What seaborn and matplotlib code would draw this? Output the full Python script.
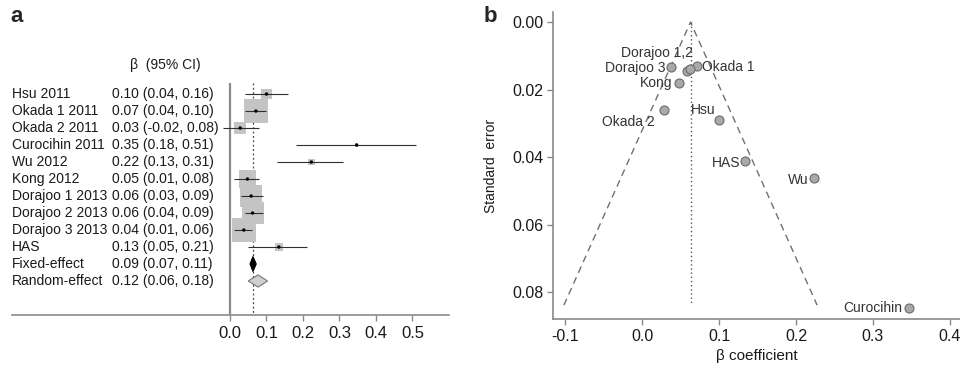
import numpy as np
import matplotlib
matplotlib.use("Agg")
import matplotlib.pyplot as plt
import matplotlib.transforms as mtransforms
import seaborn as sns

# ---- Data ----
studies = ["Hsu 2011", "Okada 1 2011", "Okada 2 2011", "Curocihin 2011", "Wu 2012",
           "Kong 2012", "Dorajoo 1 2013", "Dorajoo 2 2013", "Dorajoo 3 2013", "HAS"]
beta = [0.100, 0.071, 0.028, 0.347, 0.223, 0.048, 0.058, 0.062, 0.038, 0.134]
ci_lo = [0.04, 0.04, -0.02, 0.18, 0.13, 0.01, 0.03, 0.04, 0.01, 0.05]
ci_hi = [0.16, 0.10, 0.08, 0.51, 0.31, 0.08, 0.09, 0.09, 0.06, 0.21]
se = [0.0290, 0.0131, 0.0260, 0.0847, 0.0463, 0.0179, 0.0145, 0.0140, 0.0132, 0.0411]

pooled_names = ["Fixed-effect", "Random-effect"]
pooled_text = ["0.09 (0.07, 0.11)", "0.12 (0.06, 0.18)"]
pooled_est = [0.063, 0.077]
pooled_lo = [0.055, 0.050]
pooled_hi = [0.072, 0.103]

funnel_center = 0.063
funnel_se_max = 0.0839

forest_ticks = [0.0, 0.1, 0.2, 0.3, 0.4, 0.5]
funnel_xticks = [-0.1, 0.0, 0.1, 0.2, 0.3, 0.4]
funnel_yticks = [0.00, 0.02, 0.04, 0.06, 0.08]

# ---- Style ----
sns.set_theme(style="white")
plt.rcParams["font.family"] = ["Liberation Sans", "DejaVu Sans"]
AXIS_GRAY = "#8a8a8a"
TEXT = "#1a1a1a"
TICK_SIZE = 11.5

fig = plt.figure(figsize=(9.6, 3.7), dpi=100)

# ================= Panel a: forest plot =================
ax = fig.add_axes([12 / 960, 1 - 315 / 370, 437 / 960, 232 / 370])
rows = np.arange(len(studies))
pooled_rows = np.arange(len(studies), len(studies) + len(pooled_names))

ax.set_xlim(-0.597, 0.6)
ax.set_ylim(13.0, -0.65)

# study weight squares (side ~ 1/SE)
sizes = [(0.72 * 0.31 / s) ** 2 for s in se]
ax.vlines(0, -0.65, 13.0, color=AXIS_GRAY, lw=1.6, zorder=1)
ax.vlines(funnel_center, -0.65, 13.0, color="#444444", lw=0.9, linestyles=(0, (1.5, 2)), zorder=1)
sns.scatterplot(x=beta, y=rows, s=sizes, marker="s", color="#c4c4c4", edgecolor="none",
                linewidth=0, ax=ax, zorder=2, legend=False)
ax.hlines(rows, ci_lo, ci_hi, color="#303030", lw=0.8, zorder=3)
sns.scatterplot(x=beta, y=rows, s=6, marker="o", color="black", edgecolor="none",
                ax=ax, zorder=4, legend=False)

# pooled diamonds
heights = [0.44, 0.36]
fills = ["black", "#cfcfcf"]
edges = ["black", "#777777"]
for r, est, lo, hi, h, fc, ec in zip(pooled_rows, pooled_est, pooled_lo, pooled_hi, heights, fills, edges):
    ax.fill([lo, est, hi, est], [r, r - h, r, r + h], facecolor=fc, edgecolor=ec, lw=0.8, zorder=4)

# text columns
trans = mtransforms.blended_transform_factory(ax.transAxes, ax.transData)
ci_text = [f"{b:.2f} ({l:.2f}, {u:.2f})" for b, l, u in zip(beta, ci_lo, ci_hi)]
for r, name, txt in zip(list(rows) + list(pooled_rows), studies + pooled_names, ci_text + pooled_text):
    ax.text(0.0, r, name, transform=trans, ha="left", va="center", fontsize=10, color=TEXT)
    ax.text(0.229, r, txt, transform=trans, ha="left", va="center", fontsize=10, color=TEXT)
ax.text(0.35, -1.7, "β  (95% CI)", transform=trans, ha="center", va="center",
        fontsize=10, color=TEXT, clip_on=False)

for side in ["left", "right", "top"]:
    ax.spines[side].set_visible(False)
ax.spines["bottom"].set_color(AXIS_GRAY)
ax.spines["bottom"].set_linewidth(1.2)
ax.set_yticks([])
ax.set_xticks(forest_ticks)
ax.set_xticklabels([f"{t:.1f}" for t in forest_ticks])
ax.tick_params(axis="x", direction="out", length=4, width=1, color=AXIS_GRAY,
               labelsize=12, labelcolor=TEXT, pad=4, bottom=True)

fig.text(10 / 960, 1 - 17 / 370, "a", fontsize=16, fontweight="bold", va="center", ha="left")

# ================= Panel b: funnel plot =================
bx = fig.add_axes([553 / 960, 1 - 319 / 370, 407 / 960, 307 / 370])
bx.set_xlim(-0.1156, 0.413)
bx.set_ylim(0.088, -0.003)

half = 1.96 * funnel_se_max
bx.plot([funnel_center - half, funnel_center, funnel_center + half],
        [funnel_se_max, 0, funnel_se_max], color="#707070", lw=1, ls=(0, (5, 3.5)), zorder=1)
bx.plot([funnel_center, funnel_center], [0, funnel_se_max], color="#555555", lw=1,
        ls=(0, (1, 2)), zorder=1)

sns.scatterplot(x=beta, y=se, s=42, color="#a9a9a9", edgecolor="#6a6a6a", linewidth=0.8,
                ax=bx, zorder=3, legend=False, clip_on=False)

# point labels: (text, index of anchor point, offset px, ha)
labels = [
    ("Dorajoo 1,2", 6, (-30, 18), "center"),
    ("Dorajoo 3", 8, (-6, -1), "right"),
    ("Okada 1", 1, (5, -1), "left"),
    ("Kong", 5, (-7, 0), "right"),
    ("Okada 2", 2, (-9, -12), "right"),
    ("Hsu", 0, (-16, 10), "center"),
    ("HAS", 9, (-5, -2), "right"),
    ("Wu", 4, (-5, -2), "right"),
    ("Curocihin", 3, (-7, 0), "right"),
]
for txt, i, (dx, dy), ha in labels:
    bx.annotate(txt, (beta[i], se[i]), xytext=(dx * 0.72, dy * 0.72), textcoords="offset points",
                ha=ha, va="center", fontsize=10, color="#333333", zorder=2)

for side in ["right", "top"]:
    bx.spines[side].set_visible(False)
for side in ["left", "bottom"]:
    bx.spines[side].set_color(AXIS_GRAY)
    bx.spines[side].set_linewidth(1.2)
bx.set_xticks(funnel_xticks)
bx.set_xticklabels([f"{t:.1f}" for t in funnel_xticks])
bx.set_yticks(funnel_yticks)
bx.set_yticklabels([f"{t:.2f}" for t in funnel_yticks])
bx.tick_params(direction="out", length=4, width=1, color=AXIS_GRAY, labelsize=TICK_SIZE,
               labelcolor=TEXT, pad=3, left=True, bottom=True)
bx.set_xlabel("β coefficient", fontsize=11, color=TEXT, labelpad=4)
bx.set_ylabel("Standard  error", fontsize=10, color=TEXT, labelpad=10)

fig.text(484 / 960, 1 - 17 / 370, "b", fontsize=16, fontweight="bold", va="center", ha="left")

fig.savefig("out.png", dpi=100)
